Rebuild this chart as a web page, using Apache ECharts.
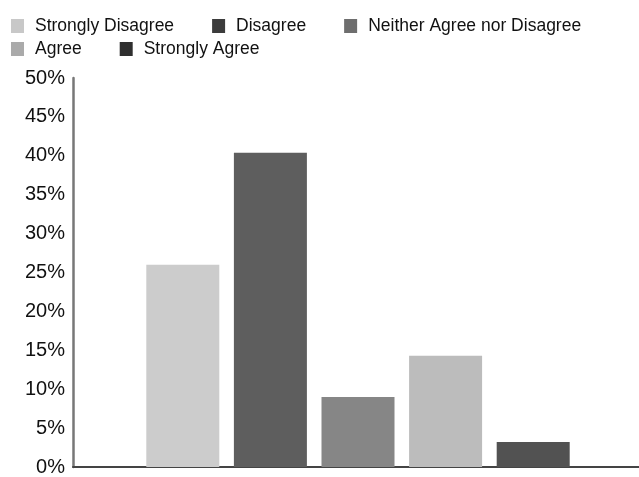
<!DOCTYPE html>
<html>
<head>
<meta charset="utf-8">
<script src="https://cdn.jsdelivr.net/npm/echarts@6/dist/echarts.min.js"></script>
<style>
html,body{margin:0;padding:0;background:#fff;}
#c{width:639px;height:477px;}
</style>
</head>
<body>
<div id="c"></div>
<script>
var categories = [''];
var seriesNames = ['Strongly Disagree', 'Disagree', 'Neither Agree nor Disagree', 'Agree', 'Strongly Agree'];
var seriesValues = [26, 40.4, 9, 14.3, 3.2];
var yTicks = [0, 5, 10, 15, 20, 25, 30, 35, 40, 45, 50];

var barColors = ['#cccccc', '#5e5e5e', '#868686', '#bcbcbc', '#525252'];
var legendColors = ['#c8c8c8', '#3c3c3c', '#6e6e6e', '#aaaaaa', '#2f2f2f'];

function legendItems(idx) {
  return idx.map(function (i) {
    return { name: seriesNames[i], itemStyle: { color: legendColors[i] } };
  });
}

var chart = echarts.init(document.getElementById('c'), null, { renderer: 'canvas' });
var legendText = { fontFamily: 'Liberation Sans, Arial, sans-serif', fontSize: 17.5, color: '#111', padding: [0, 0, 0, 6] };
chart.setOption({
  animation: false,
  backgroundColor: '#fff',
  legend: [
    {
      left: 11, top: 17, padding: 0, itemWidth: 13, itemHeight: 14, itemGap: 38,
      icon: 'rect', selectedMode: false, textStyle: legendText,
      data: legendItems([0, 1, 2])
    },
    {
      left: 11, top: 40, padding: 0, itemWidth: 13, itemHeight: 14, itemGap: 38,
      icon: 'rect', selectedMode: false, textStyle: legendText,
      data: legendItems([3, 4])
    }
  ],
  grid: { left: 73, right: -4, top: 78, bottom: 10, containLabel: false, outerBoundsMode: 'none' },
  xAxis: {
    type: 'category',
    data: categories,
    axisLine: { lineStyle: { color: '#444', width: 2 } },
    axisTick: { show: false },
    axisLabel: { show: false }
  },
  yAxis: {
    type: 'value',
    min: yTicks[0],
    max: yTicks[yTicks.length - 1],
    interval: yTicks[1] - yTicks[0],
    axisLine: { show: true, lineStyle: { color: '#777', width: 2.5 } },
    axisTick: { show: false },
    splitLine: { show: false },
    axisLabel: {
      formatter: '{value}%',
      margin: 8,
      fontFamily: 'Liberation Sans, Arial, sans-serif',
      fontSize: 20,
      color: '#111'
    }
  },
  series: seriesNames.map(function (n, i) {
    var d = categories.map(function () { return seriesValues[i]; });
    return {
      name: n,
      type: 'bar',
      data: d,
      barWidth: 73,
      barGap: '20%',
      itemStyle: { color: barColors[i] }
    };
  })
});
</script>
</body>
</html>
